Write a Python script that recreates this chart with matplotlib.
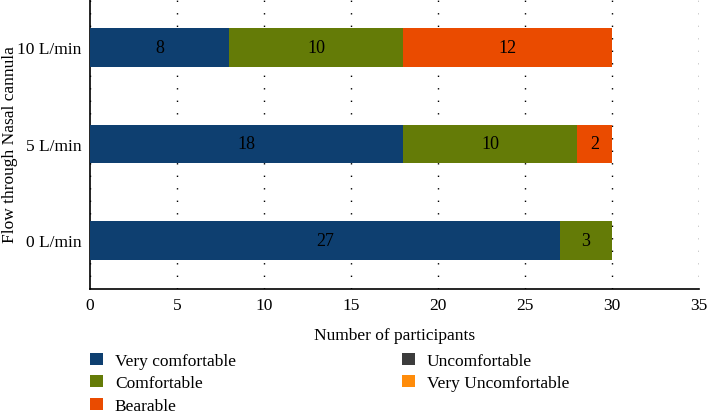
import matplotlib.pyplot as plt
import numpy as np

plt.rcParams['font.family'] = ['Liberation Serif', 'DejaVu Serif']

# data
flows = ["0 L/min", "5 L/min", "10 L/min"]
categories = ["Very comfortable", "Comfortable", "Bearable",
              "Uncomfortable", "Very Uncomfortable"]
very_comfortable = [27, 18, 8]
comfortable = [3, 10, 10]
bearable = [0, 2, 12]
uncomfortable = [0, 0, 0]
very_uncomfortable = [0, 0, 0]
colors = ["#0E3F70", "#647B07", "#EA4B00", "#3C3C3C", "#FF8C0A"]

series = [very_comfortable, comfortable, bearable, uncomfortable, very_uncomfortable]

fig = plt.figure(figsize=(7.08, 4.14), dpi=100)
ax = fig.add_axes([0.127, 0.30, 0.860, 0.70])

y = np.arange(len(flows))
left = np.zeros(len(flows))
for name, vals, c in zip(categories, series, colors):
    vals = np.array(vals, dtype=float)
    ax.barh(y, vals, left=left, height=0.4, color=c, label=name,
            linewidth=0, zorder=3)
    for yi, l, v in zip(y, left, vals):
        if v > 0:
            ax.text(l + v / 2, yi, f"{int(v)}", ha='center', va='center',
                    fontsize=13, color='black', zorder=4)
    left += vals

ax.set_xlim(0, 35)
ax.set_ylim(-0.5, 2.5)
ax.set_xticks(range(0, 36, 5))
ax.set_yticks(y, flows)
ax.tick_params(length=0, labelsize=12.5, pad=6)
ax.xaxis.grid(True, linestyle=(0, (1, 8)), color='black', linewidth=1.0, zorder=0)
ax.set_axisbelow(True)
for s in ['top', 'right']:
    ax.spines[s].set_visible(False)
for s in ['left', 'bottom']:
    ax.spines[s].set_linewidth(1.2)

ax.set_xlabel("Number of participants", fontsize=12.5, labelpad=10)
ax.set_ylabel("Flow through Nasal cannula", fontsize=12.5)
ax.yaxis.set_label_coords(-0.118, 0.5)

fig.legend(loc='upper left', bbox_to_anchor=(0.118, 0.162), ncol=2,
           frameon=False, fontsize=12.5, handlelength=0.7, handleheight=0.7,
           columnspacing=9.6, labelspacing=0.36, handletextpad=0.7,
           borderaxespad=0)

fig.savefig("out.png", dpi=100)
